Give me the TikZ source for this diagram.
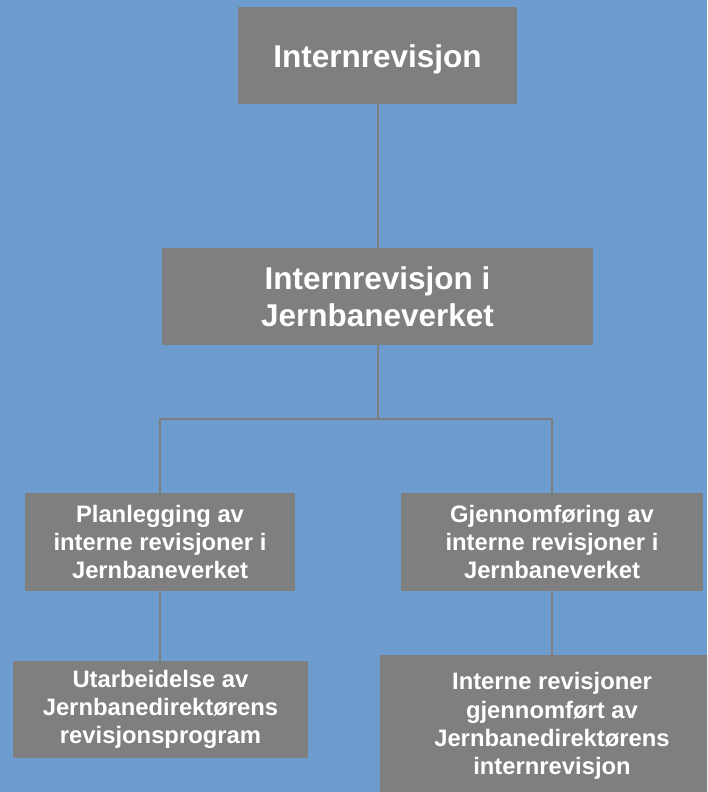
\documentclass[tikz,border=0pt]{standalone}
\usepackage{fontspec}
\setmainfont{Liberation Sans}
\definecolor{bgblue}{HTML}{6F9CCF}
\definecolor{boxgray}{HTML}{7F7F7F}
\begin{document}
\begin{tikzpicture}[x=1pt,y=-1pt,
  box/.style={fill=boxgray,text=white,align=center,inner sep=0pt,anchor=center},
  bigtext/.style={font=\fontsize{31.5}{36.5}\selectfont\bfseries},
  smalltext/.style={font=\fontsize{23.8}{28.3}\selectfont\bfseries},
  link/.style={draw=boxgray,line width=2pt}]
\clip (0,0) rectangle (707,792);
\fill[bgblue] (0,0) rectangle (707,792);
\node[box,bigtext,minimum width=279pt,minimum height=97pt] (top) at (377.5,55.5) {\raisebox{-4pt}[\height][\depth]{Internrevisjon}};
\node[box,bigtext,minimum width=431pt,minimum height=97pt] (jbv) at (377.5,296.5) {Internrevisjon i\\Jernbaneverket};
\node[box,smalltext,minimum width=270pt,minimum height=98pt] (plan) at (160,542) {Planlegging av\\interne revisjoner i\\Jernbaneverket};
\node[box,smalltext,minimum width=302pt,minimum height=98pt] (gjen) at (552,542) {Gjennomføring av\\interne revisjoner i\\Jernbaneverket};
\node[box,smalltext,minimum width=295pt,minimum height=97pt] (utarb) at (160.5,709.5) {Utarbeidelse av\\Jernbanedirektørens\\revisjonsprogram};
\node[box,smalltext,minimum width=344pt,minimum height=142pt] (intrev) at (552,726) {Interne revisjoner\\gjennomført av\\Jernbanedirektørens\\internrevisjon};
\coordinate (split) at (377.5,419);
\path[link] (top.south) -- (jbv.north);
\path[link] (jbv.south) -- (split);
\path[link] (split) -| (plan.north);
\path[link] (split) -| (gjen.north);
\path[link] (plan.south) -- (plan.south |- utarb.north);
\path[link] (gjen.south) -- (gjen.south |- intrev.north);
\end{tikzpicture}
\end{document}
